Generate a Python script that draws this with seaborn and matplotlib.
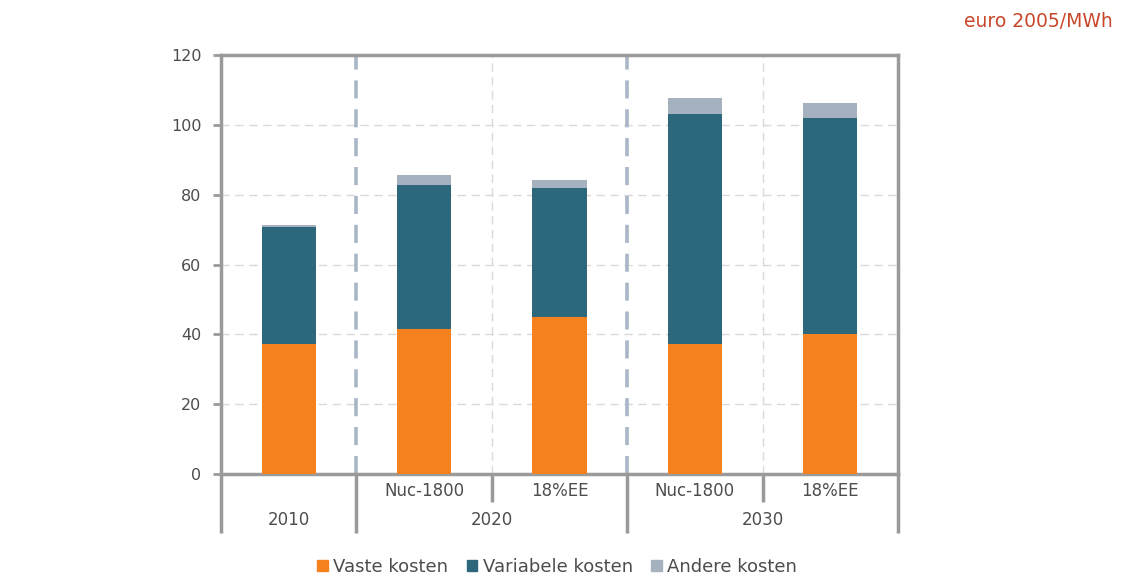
import numpy as np
import pandas as pd
import seaborn as sns
import matplotlib.pyplot as plt
from matplotlib.patches import Patch

# Values (euro 2005/MWh)
years = ["2010", "2020", "2020", "2030", "2030"]
scenarios = ["", "Nuc-1800", "18%EE", "Nuc-1800", "18%EE"]
vaste = [37.3, 41.5, 45.0, 37.2, 40.1]
variabele = [33.4, 41.3, 36.9, 65.8, 61.8]
andere = [0.6, 2.9, 2.3, 4.6, 4.3]

c_vaste = "#F5821F"
c_var = "#2D677C"
c_andere = "#A6B1BF"
txt = "#4D4D4D"
axis_col = "#9A9A9A"

slots = [f"{y} {s}".strip() for y, s in zip(years, scenarios)]
df = pd.DataFrame({"slot": slots, "vaste": vaste, "variabele": variabele, "andere": andere})
df["top_var"] = df["vaste"] + df["variabele"]
df["top_all"] = df["top_var"] + df["andere"]

sns.set_style("white")
plt.rcParams["font.family"] = ["DejaVu Sans"]

fig = plt.figure(figsize=(11.21, 5.78), dpi=100)
ax = fig.add_axes([0.1971, 0.1799, 0.604, 0.7249])

# stacked bars drawn as overlapping cumulative totals
for col, color in [("top_all", c_andere), ("top_var", c_var), ("vaste", c_vaste)]:
    sns.barplot(data=df, x="slot", y=col, order=slots, color=color, width=0.4,
                saturation=1, linewidth=0, ax=ax, zorder=3)

ax.set_xlim(-0.5, len(slots) - 0.5)
ax.set_ylim(0, 120)
ax.set_yticks(range(0, 121, 20))
ax.set_xlabel("")
ax.set_ylabel("")
ax.set_xticks([])

# gridlines
for yv in range(20, 121, 20):
    ax.axhline(yv, color="#D9D9D9", lw=1, ls=(0, (6, 4)), zorder=1)
for xv in [1.5, 3.5]:
    ax.axvline(xv, color="#D9D9D9", lw=1, ls=(0, (6, 4)), zorder=1)
for xv in [0.5, 2.5]:
    ax.axvline(xv, color="#A9B6C7", lw=2.6, ls=(0, (5, 3)), zorder=2)

for sp in ax.spines.values():
    sp.set_visible(True)
    sp.set_color(axis_col)
    sp.set_linewidth(2.5)

ax.tick_params(axis="y", length=6, width=2, color=axis_col, labelsize=11.5,
               labelcolor=txt, pad=8, left=True)

# two-level category axis below the plot
tr = ax.get_xaxis_transform()
for xv in [-0.5, 0.5, 2.5, 4.5]:
    ax.plot([xv, xv], [0, -0.141], transform=tr, color=axis_col, lw=2.5,
            clip_on=False, solid_capstyle="butt")
for xv in [1.5, 3.5]:
    ax.plot([xv, xv], [0, -0.067], transform=tr, color=axis_col, lw=2.5,
            clip_on=False, solid_capstyle="butt")

for i, s in enumerate(scenarios):
    if s:
        ax.text(i, -0.04, s, transform=tr, ha="center", va="center",
                fontsize=12, color=txt)

groups = {}
for i, y in enumerate(years):
    groups.setdefault(y, []).append(i)
for y, idx in groups.items():
    ax.text(np.mean(idx), -0.11, y, transform=tr, ha="center", va="center",
            fontsize=12, color=txt)

fig.text(0.993, 0.962, "euro 2005/MWh", ha="right", va="center",
         fontsize=13.5, color="#C8472B")

handles = [Patch(color=c_vaste, label="Vaste kosten"),
           Patch(color=c_var, label="Variabele kosten"),
           Patch(color=c_andere, label="Andere kosten")]
leg = fig.legend(handles=handles, loc="center", bbox_to_anchor=(0.497, 0.019),
                 ncol=3, frameon=False, fontsize=13, handlelength=0.6,
                 handleheight=0.6, handletextpad=0.3, columnspacing=1.0)
for t in leg.get_texts():
    t.set_color(txt)

fig.savefig("out.png", dpi=100)
